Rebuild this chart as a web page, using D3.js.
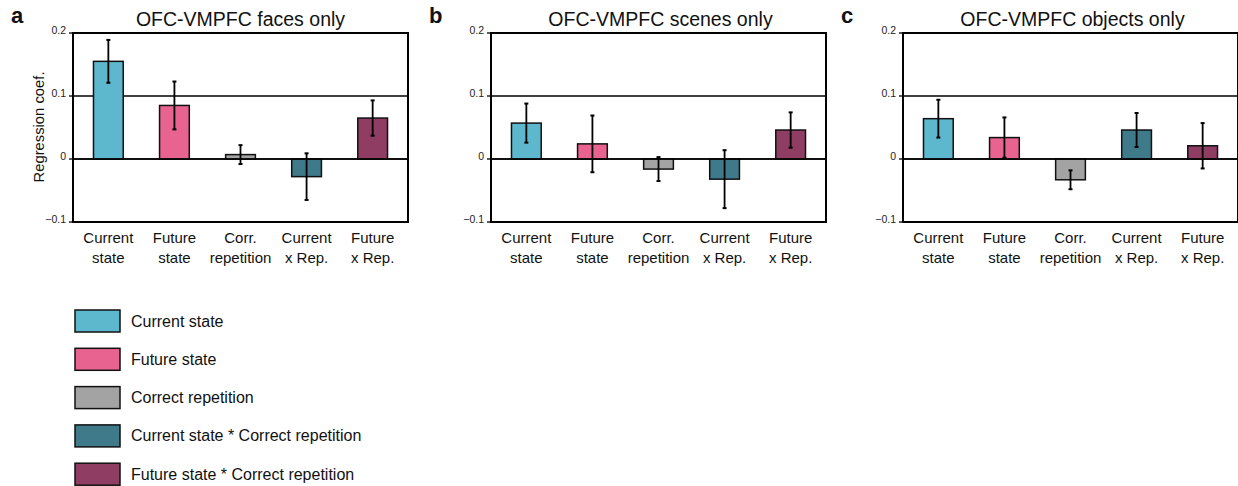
<!DOCTYPE html>
<html>
<head>
<meta charset="utf-8">
<script src="https://cdn.jsdelivr.net/npm/d3@7"></script>
<style>
    body { margin: 0; background: #fff; }
    svg { font-family: "Liberation Sans", Arial, sans-serif; }
</style>
</head>
<body>
<svg width="1238" height="486"></svg>
<script>
(function(d3) {
    'use strict';

    // data
    const categories = ['Current state', 'Future state', 'Corr. repetition', 'Current x Rep.', 'Future x Rep.'];
    const catLines = [['Current', 'state'], ['Future', 'state'], ['Corr.', 'repetition'], ['Current', 'x Rep.'], ['Future', 'x Rep.']];
    const legendLabels = ['Current state', 'Future state', 'Correct repetition',
        'Current state * Correct repetition', 'Future state * Correct repetition'];
    const panelTitles = ['OFC-VMPFC faces only', 'OFC-VMPFC scenes only', 'OFC-VMPFC objects only'];
    const panelLetters = ['a', 'b', 'c'];
    const yTicks = [-0.1, 0, 0.1, 0.2];

    const facesMean = [0.155, 0.085, 0.007, -0.028, 0.065];
    const facesErr = [0.034, 0.038, 0.015, 0.037, 0.028];
    const scenesMean = [0.057, 0.024, -0.016, -0.032, 0.046];
    const scenesErr = [0.031, 0.045, 0.019, 0.046, 0.028];
    const objectsMean = [0.064, 0.034, -0.033, 0.046, 0.021];
    const objectsErr = [0.030, 0.032, 0.015, 0.027, 0.036];

    const colors = ['#5db7cd', '#e86390', '#a3a3a3', '#3e7a8a', '#8f3d63'];

    const panels = [
        { mean: facesMean, err: facesErr, x: 73 },
        { mean: scenesMean, err: scenesErr, x: 491 },
        { mean: objectsMean, err: objectsErr, x: 903 }
    ];

    const svg = d3.select('svg');
    const width = 335, top = 33, height = 189;

    const y = d3.scaleLinear().domain([-0.1, 0.2]).range([top + height, top]);
    const x = d3.scaleBand().domain(categories).range([0, width])
        .paddingInner(0.55).paddingOuter(0.31);
    const cScale = d3.scaleOrdinal().domain(categories).range(colors);

    const fmt = d => d === 0 ? '0' : d3.format('.1f')(d);

    panels.forEach((p, pi) => {
        const g = svg.append('g').attr('transform', `translate(${p.x},0)`);

        // gridlines at 0.1 and 0
        g.selectAll('line.grid')
            .data([0.1, 0])
            .enter().append('line')
            .attr('class', 'grid')
            .attr('x1', 0).attr('x2', width)
            .attr('y1', d => y(d)).attr('y2', d => y(d))
            .attr('stroke', '#000').attr('stroke-width', 1.3);

        // bars
        g.selectAll('rect.bar')
            .data(p.mean)
            .enter().append('rect')
            .attr('class', 'bar')
            .attr('x', (d, i) => x(categories[i]))
            .attr('width', x.bandwidth())
            .attr('y', d => y(Math.max(0, d)))
            .attr('height', d => Math.abs(y(d) - y(0)))
            .attr('fill', (d, i) => cScale(categories[i]))
            .attr('stroke', '#111').attr('stroke-width', 1.5);

        // zero line on top of bars
        g.append('line')
            .attr('x1', 0).attr('x2', width)
            .attr('y1', y(0)).attr('y2', y(0))
            .attr('stroke', '#000').attr('stroke-width', 1.3);

        // error bars
        const eb = g.selectAll('g.err')
            .data(p.mean)
            .enter().append('g')
            .attr('class', 'err')
            .attr('transform', (d, i) => `translate(${x(categories[i]) + x.bandwidth() / 2},0)`);
        eb.append('line')
            .attr('y1', (d, i) => y(d + p.err[i]))
            .attr('y2', (d, i) => y(d - p.err[i]))
            .attr('stroke', '#000').attr('stroke-width', 1.8);
        eb.selectAll('line.cap')
            .data((d, i) => [d + p.err[i], d - p.err[i]])
            .enter().append('line')
            .attr('class', 'cap')
            .attr('x1', -2).attr('x2', 2)
            .attr('y1', d => y(d)).attr('y2', d => y(d))
            .attr('stroke', '#000').attr('stroke-width', 2);

        // frame
        g.append('rect')
            .attr('x', 0).attr('y', top)
            .attr('width', width).attr('height', height)
            .attr('fill', 'none')
            .attr('stroke', '#000').attr('stroke-width', 2);

        // y ticks, outward
        g.selectAll('line.ytick')
            .data(yTicks)
            .enter().append('line')
            .attr('class', 'ytick')
            .attr('x1', -4).attr('x2', 0)
            .attr('y1', d => y(d)).attr('y2', d => y(d))
            .attr('stroke', '#000').attr('stroke-width', 1.3);

        // y tick labels
        g.selectAll('text.ytick')
            .data(yTicks)
            .enter().append('text')
            .attr('class', 'ytick')
            .attr('x', -7)
            .attr('y', d => y(d))
            .attr('dy', '0.1em')
            .attr('text-anchor', 'end')
            .attr('font-size', 10.5)
            .attr('fill', '#222')
            .text(fmt);

        // x category labels
        const xl = g.selectAll('text.xlab')
            .data(catLines)
            .enter().append('text')
            .attr('class', 'xlab')
            .attr('text-anchor', 'middle')
            .attr('font-size', 15)
            .attr('fill', '#111')
            .attr('transform', (d, i) => `translate(${x(categories[i]) + x.bandwidth() / 2},${top + height + 21})`);
        xl.selectAll('tspan')
            .data(d => d)
            .enter().append('tspan')
            .attr('x', 0)
            .attr('dy', (d, i) => i === 0 ? 0 : 19.5)
            .text(d => d);

        // title and letter
        g.append('text')
            .attr('x', width / 2 + (pi === 0 ? 0 : 2))
            .attr('y', 26)
            .attr('text-anchor', 'middle')
            .attr('font-size', 19.5)
            .attr('fill', '#111')
            .text(panelTitles[pi]);
        g.append('text')
            .attr('x', -62)
            .attr('y', 23)
            .attr('font-size', 22)
            .attr('font-weight', 'bold')
            .attr('fill', '#111')
            .text(panelLetters[pi]);
    });

    // y axis title, first panel only
    svg.append('text')
        .attr('transform', `translate(44,127) rotate(-90)`)
        .attr('text-anchor', 'middle')
        .attr('font-size', 14.8)
        .attr('fill', '#111')
        .text('Regression coef.');

    // legend
    const legend = svg.append('g').attr('transform', 'translate(75,310)');
    const item = legend.selectAll('g')
        .data(legendLabels)
        .enter().append('g')
        .attr('transform', (d, i) => `translate(0,${i * 38.3})`);
    item.append('rect')
        .attr('width', 45).attr('height', 22)
        .attr('fill', (d, i) => colors[i])
        .attr('stroke', '#111').attr('stroke-width', 1.5);
    item.append('text')
        .attr('x', 56).attr('y', 11)
        .attr('dy', '0.35em')
        .attr('font-size', 16)
        .attr('fill', '#111')
        .text(d => d);
}(d3));
</script>
</body>
</html>
